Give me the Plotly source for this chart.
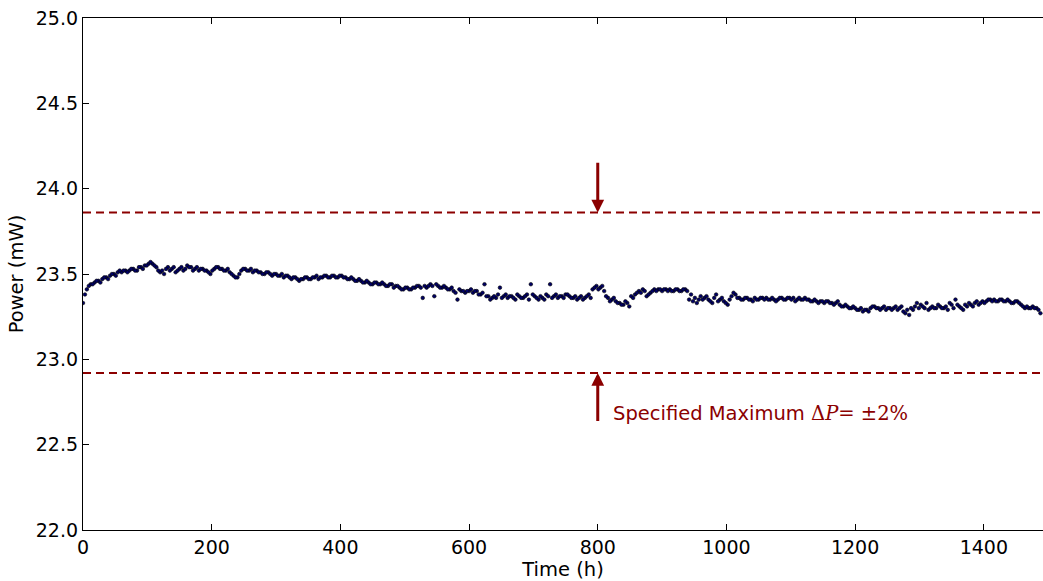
import plotly.graph_objects as go

# ---- data ----
time_h = [
    0, 6, 12, 18, 24, 30, 36, 42, 48, 54,
    60, 66, 72, 78, 84, 90, 96, 102, 108, 114,
    120, 126, 132, 138, 144, 150, 156, 162, 168, 174,
    180, 186, 192, 198, 204, 210, 216, 222, 228, 234,
    240, 246, 252, 258, 264, 270, 276, 282, 288, 294,
    300, 306, 312, 318, 324, 330, 336, 342, 348, 354,
    360, 366, 372, 378, 384, 390, 396, 402, 408, 414,
    420, 426, 432, 438, 444, 450, 456, 462, 468, 474,
    480, 486, 492, 498, 504, 510, 516, 522, 528, 534,
    540, 546, 552, 558, 564, 570, 576, 582, 588, 594,
    600, 606, 612, 618, 624, 630, 636, 642, 648, 654,
    660, 666, 672, 678, 684, 690, 696, 702, 708, 714,
    720, 726, 732, 738, 744, 750, 756, 762, 768, 774,
    780, 786, 792, 798, 804, 810, 816, 822, 828, 834,
    840, 846, 852, 858, 864, 870, 876, 882, 888, 894,
    900, 906, 912, 918, 924, 930, 936, 942, 948, 954,
    960, 966, 972, 978, 984, 990, 996, 1002, 1008, 1014,
    1020, 1026, 1032, 1038, 1044, 1050, 1056, 1062, 1068, 1074,
    1080, 1086, 1092, 1098, 1104, 1110, 1116, 1122, 1128, 1134,
    1140, 1146, 1152, 1158, 1164, 1170, 1176, 1182, 1188, 1194,
    1200, 1206, 1212, 1218, 1224, 1230, 1236, 1242, 1248, 1254,
    1260, 1266, 1272, 1278, 1284, 1290, 1296, 1302, 1308, 1314,
    1320, 1326, 1332, 1338, 1344, 1350, 1356, 1362, 1368, 1374,
    1380, 1386, 1392, 1398, 1404, 1410, 1416, 1422, 1428, 1434,
    1440, 1446, 1452, 1458, 1464, 1470, 1476, 1482, 1488,
]
power_mw = [
    23.33, 23.41, 23.44, 23.45, 23.46, 23.47, 23.48, 23.49, 23.50, 23.51,
    23.51, 23.52, 23.52, 23.53, 23.52, 23.54, 23.55, 23.56, 23.56, 23.54,
    23.51, 23.50, 23.54, 23.53, 23.51, 23.53, 23.52, 23.55, 23.54, 23.53,
    23.52, 23.53, 23.52, 23.50, 23.53, 23.54, 23.53, 23.52, 23.51, 23.49,
    23.48, 23.52, 23.53, 23.52, 23.51, 23.52, 23.51, 23.50, 23.51, 23.49,
    23.50, 23.49, 23.48, 23.49, 23.47, 23.48, 23.46, 23.47, 23.48, 23.47,
    23.48, 23.47, 23.48, 23.49, 23.48, 23.49, 23.48, 23.49, 23.48, 23.47,
    23.47, 23.46, 23.46, 23.45, 23.45, 23.44, 23.45, 23.44, 23.44, 23.43,
    23.44, 23.43, 23.42, 23.41, 23.42, 23.41, 23.42, 23.43, 23.36, 23.42,
    23.44, 23.37, 23.43, 23.42, 23.42, 23.41, 23.40, 23.35, 23.40, 23.39,
    23.40, 23.39, 23.40, 23.38, 23.44, 23.37, 23.36, 23.36, 23.42, 23.37,
    23.36, 23.37, 23.35, 23.37, 23.36, 23.38, 23.44, 23.37, 23.35, 23.36,
    23.38, 23.44, 23.37, 23.36, 23.37, 23.38, 23.37, 23.36, 23.35, 23.37,
    23.36, 23.38, 23.41, 23.43, 23.42, 23.40, 23.36, 23.35, 23.34, 23.33,
    23.32, 23.33, 23.37, 23.38, 23.40, 23.41, 23.37, 23.39, 23.41, 23.41,
    23.40, 23.41, 23.41, 23.40, 23.41, 23.40, 23.41, 23.35, 23.34, 23.33,
    23.37, 23.36, 23.35, 23.33, 23.38, 23.35, 23.34, 23.32, 23.37, 23.38,
    23.36, 23.35, 23.36, 23.35, 23.36, 23.35, 23.36, 23.36, 23.35, 23.35,
    23.35, 23.36, 23.35, 23.36, 23.36, 23.35, 23.35, 23.36, 23.35, 23.34,
    23.34, 23.34, 23.33, 23.34, 23.33, 23.33, 23.32, 23.31, 23.31, 23.30,
    23.30, 23.29, 23.28, 23.29, 23.30, 23.31, 23.30, 23.30, 23.29, 23.30,
    23.30, 23.29, 23.31, 23.27, 23.26, 23.29, 23.33, 23.32, 23.30, 23.29,
    23.31, 23.30, 23.31, 23.30, 23.29, 23.32, 23.35, 23.31, 23.29, 23.31,
    23.32, 23.33, 23.32, 23.34, 23.34, 23.35, 23.35, 23.34, 23.35, 23.34,
    23.34, 23.33, 23.34, 23.32, 23.30, 23.30, 23.31, 23.30, 23.27,
]

# in-between readings (the record is denser than one point per 6 h)
time_h_mid = [
    3, 9, 15, 21, 27, 33, 39, 45, 51, 57,
    63, 69, 75, 81, 87, 93, 99, 105, 111, 117,
    123, 129, 135, 141, 147, 153, 159, 165, 171, 177,
    183, 189, 195, 201, 207, 213, 219, 225, 231, 237,
    243, 249, 255, 261, 267, 273, 279, 285, 291, 297,
    303, 309, 315, 321, 327, 333, 339, 345, 351, 357,
    363, 369, 375, 381, 387, 393, 399, 405, 411, 417,
    423, 429, 435, 441, 447, 453, 459, 465, 471, 477,
    483, 489, 495, 501, 507, 513, 519, 525, 531, 537,
    543, 549, 555, 561, 567, 573, 579, 585, 591, 597,
    603, 609, 615, 621, 627, 633, 639, 645, 651, 657,
    663, 669, 675, 681, 687, 693, 699, 705, 711, 717,
    723, 729, 735, 741, 747, 753, 759, 765, 771, 777,
    783, 789, 795, 801, 807, 813, 819, 825, 831, 837,
    843, 849, 855, 861, 867, 873, 879, 885, 891, 897,
    903, 909, 915, 921, 927, 933, 939, 945, 951, 957,
    963, 969, 975, 981, 987, 993, 999, 1005, 1011, 1017,
    1023, 1029, 1035, 1041, 1047, 1053, 1059, 1065, 1071, 1077,
    1083, 1089, 1095, 1101, 1107, 1113, 1119, 1125, 1131, 1137,
    1143, 1149, 1155, 1161, 1167, 1173, 1179, 1185, 1191, 1197,
    1203, 1209, 1215, 1221, 1227, 1233, 1239, 1245, 1251, 1257,
    1263, 1269, 1275, 1281, 1287, 1293, 1299, 1305, 1311, 1317,
    1323, 1329, 1335, 1341, 1347, 1353, 1359, 1365, 1371, 1377,
    1383, 1389, 1395, 1401, 1407, 1413, 1419, 1425, 1431, 1437,
    1443, 1449, 1455, 1461, 1467, 1473, 1479, 1485,
]
power_mw_mid = [
    23.38, 23.43, 23.44, 23.46, 23.45, 23.48, 23.47, 23.50, 23.49, 23.52,
    23.52, 23.51, 23.53, 23.52, 23.54, 23.53, 23.55, 23.57, 23.55, 23.52,
    23.52, 23.53, 23.52, 23.54, 23.52, 23.54, 23.53, 23.54, 23.52, 23.54,
    23.53, 23.52, 23.51, 23.52, 23.54, 23.53, 23.52, 23.53, 23.50, 23.48,
    23.50, 23.53, 23.52, 23.53, 23.52, 23.51, 23.50, 23.51, 23.50, 23.50,
    23.49, 23.50, 23.49, 23.48, 23.48, 23.47, 23.47, 23.48, 23.47, 23.48,
    23.49, 23.48, 23.49, 23.48, 23.49, 23.48, 23.49, 23.48, 23.47, 23.48,
    23.46, 23.47, 23.45, 23.46, 23.44, 23.45, 23.44, 23.45, 23.43, 23.44,
    23.42, 23.43, 23.41, 23.42, 23.41, 23.42, 23.43, 23.42, 23.43, 23.43,
    23.43, 23.44, 23.42, 23.43, 23.41, 23.42, 23.39, 23.41, 23.40, 23.40,
    23.41, 23.40, 23.38, 23.39, 23.37, 23.35, 23.37, 23.38, 23.36, 23.38,
    23.37, 23.36, 23.38, 23.36, 23.37, 23.35, 23.38, 23.36, 23.37, 23.35,
    23.37, 23.36, 23.38, 23.37, 23.36, 23.38, 23.36, 23.37, 23.36, 23.35,
    23.37, 23.36, 23.42, 23.41, 23.43, 23.37, 23.34, 23.36, 23.33, 23.32,
    23.34, 23.31, 23.36, 23.39, 23.39, 23.40, 23.38, 23.40, 23.40, 23.41,
    23.41, 23.40, 23.40, 23.41, 23.40, 23.41, 23.40, 23.38, 23.36, 23.35,
    23.35, 23.37, 23.34, 23.36, 23.34, 23.36, 23.33, 23.35, 23.39, 23.36,
    23.35, 23.36, 23.35, 23.34, 23.35, 23.36, 23.35, 23.35, 23.36, 23.34,
    23.36, 23.35, 23.36, 23.35, 23.34, 23.36, 23.35, 23.35, 23.34, 23.35,
    23.33, 23.34, 23.34, 23.33, 23.32, 23.34, 23.31, 23.32, 23.30, 23.31,
    23.29, 23.30, 23.29, 23.28, 23.31, 23.30, 23.29, 23.31, 23.30, 23.29,
    23.31, 23.30, 23.28, 23.29, 23.30, 23.31, 23.30, 23.31, 23.33, 23.30,
    23.30, 23.32, 23.30, 23.31, 23.33, 23.30, 23.32, 23.30, 23.32, 23.33,
    23.31, 23.34, 23.33, 23.33, 23.35, 23.34, 23.34, 23.35, 23.34, 23.35,
    23.33, 23.34, 23.33, 23.31, 23.31, 23.30, 23.30, 23.29,
]

limit_upper = 23.86
limit_lower = 22.92
arrow_time = 800
arrow_top_tail = 24.16
arrow_bottom_tail = 22.63
label_time = 820
label_power = 22.68
x_max = 1492

x_ticks = [0, 200, 400, 600, 800, 1000, 1200, 1400]
y_ticks = [22.0, 22.5, 23.0, 23.5, 24.0, 24.5, 25.0]

RED = "#8b0000"
FONT = "DejaVu Sans"

fig = go.Figure()

for lvl in (limit_upper, limit_lower):
    fig.add_trace(go.Scatter(
        x=[0, x_max], y=[lvl, lvl], mode="lines",
        line=dict(color=RED, width=2, dash="8px,5px"),
        hoverinfo="skip", showlegend=False,
    ))

marker_style = dict(size=3.6, color="#000066", line=dict(color="black", width=0.6))
fig.add_trace(go.Scatter(x=time_h, y=power_mw, mode="markers",
                         marker=marker_style, showlegend=False))
fig.add_trace(go.Scatter(x=time_h_mid, y=power_mw_mid, mode="markers",
                         marker=marker_style, showlegend=False))

for tip, tail in ((limit_upper, arrow_top_tail), (limit_lower, arrow_bottom_tail)):
    fig.add_annotation(
        x=arrow_time, y=tip, ax=arrow_time, ay=tail,
        xref="x", yref="y", axref="x", ayref="y",
        showarrow=True, arrowhead=2, arrowsize=0.85, arrowwidth=3, arrowcolor=RED,
        text="", standoff=0,
    )

fig.add_annotation(
    x=label_time, y=label_power, xref="x", yref="y",
    xanchor="left", yanchor="middle", showarrow=False,
    text="Specified Maximum <span style='font-family:\"DejaVu Serif\"'>Δ<i>P</i>= ±2%</span>",
    font=dict(family=FONT, size=19.5, color=RED),
)

fig.update_layout(
    width=1043, height=581, autosize=False,
    margin=dict(l=83, r=0, t=18, b=51),
    paper_bgcolor="white", plot_bgcolor="white",
    font=dict(family=FONT, size=19, color="black"),
    xaxis=dict(
        range=[0, x_max], tickvals=x_ticks, ticks="inside", ticklen=6,
        tickcolor="black", showline=True, linecolor="black", linewidth=1.2,
        mirror="ticks", showgrid=False, zeroline=False, automargin=False,
        tickfont=dict(size=19),
        title=dict(text="Time (h)", standoff=0, font=dict(size=19.5)),
    ),
    yaxis=dict(
        range=[22, 25], tickvals=y_ticks, tickformat=".1f", ticks="inside", ticklen=6,
        tickcolor="black", showline=True, linecolor="black", linewidth=1.2,
        showgrid=False, zeroline=False, automargin=False,
        tickfont=dict(size=19),
        title=dict(text="Power (mW)", standoff=6, font=dict(size=19.5)),
    ),
)

# remove the page's default body margin so the figure sits at the window's top-left corner
fig.write_html(
    "out.html",
    config={"responsive": False, "displayModeBar": False},
    post_script="document.body.style.margin='0';document.body.style.overflow='hidden';",
)
